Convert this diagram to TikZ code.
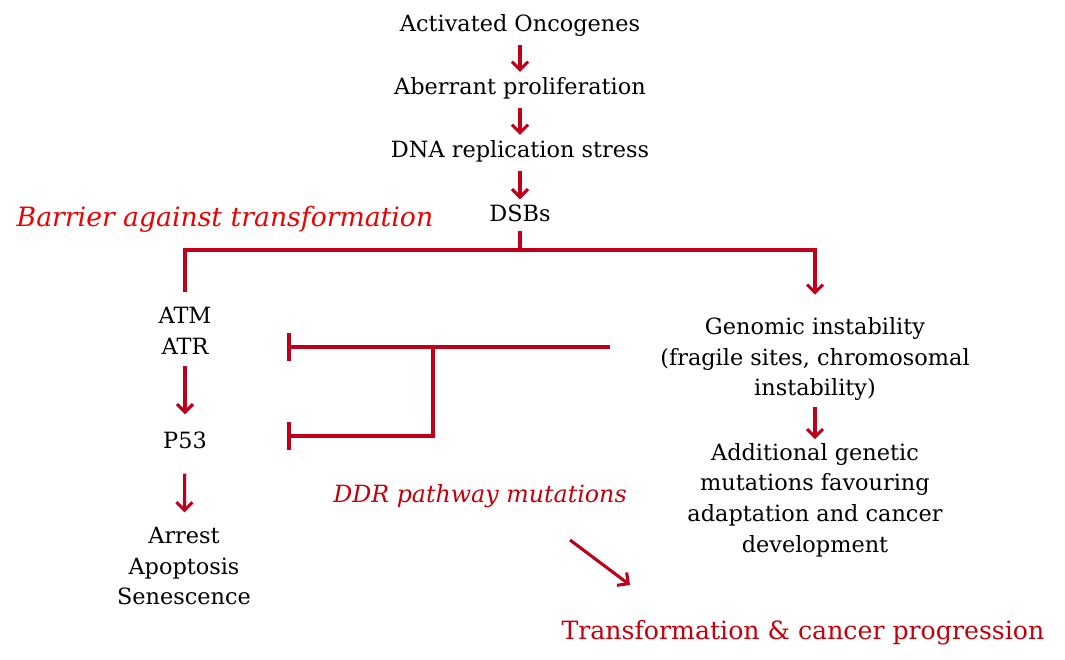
\documentclass[tikz,border=0pt]{standalone}
\usepackage{fontspec}
\setmainfont{DejaVu Serif}
\usetikzlibrary{arrows.meta,positioning}
\definecolor{linered}{RGB}{192,0,26}
\definecolor{barrierred}{RGB}{238,0,0}
\definecolor{ddrred}{RGB}{196,0,12}
\tikzset{
  txt/.style={align=center,inner sep=0.75pt,font=\fontsize{16.8}{23}\selectfont},
  redtxt/.style={inner sep=0.75pt,font=\fontsize{17.8}{23}\selectfont\itshape},
  link/.style={draw=linered,line width=2.3pt},
  flow/.style={link,-{Straight Barb[length=6pt,width=12pt,line width=2.3pt]}},
  inhib/.style={link,-{Bar[width=21pt,line width=2.8pt]}},
}
\begin{document}
\begin{tikzpicture}[x=0.75pt,y=0.75pt,yscale=-1,xscale=1]
\useasboundingbox (0,0) rectangle (1065,660);

% main chain
\node[txt] (onc) at (520,25) {Activated Oncogenes};
\node[txt] (abp) at (520,88) {Aberrant proliferation};
\node[txt] (drs) at (520,151) {DNA replication stress};
\node[txt] (dsb) at (520,213) {DSBs};
\node[redtxt,text=barrierred,font=\fontsize{20}{23}\selectfont\itshape] (barrier) at (225,219) {Barrier against transformation};

% left branch
\node[txt] (atm) at (185,315) {ATM};
\node[txt] (atr) at (185,346) {ATR};
\node[txt] (p53) at (185,440) {P53};
\node[txt] (fate) at (184,566) {Arrest\\Apoptosis\\Senescence};

% right branch
\node[txt] (gen) at (815,359) {Genomic instability\\(fragile sites, chromosomal\\instability)};
\node[txt] (add) at (815,500) {Additional genetic\\mutations favouring\\adaptation and cancer\\development};

\node[redtxt,text=ddrred] (ddr) at (480,496) {DDR pathway mutations};
\node[inner sep=0.75pt,text=ddrred,font=\fontsize{18.9}{24}\selectfont] (prog) at (803,633) {Transformation \& cancer progression};

% helper points
\coordinate (split) at (520,250);
\coordinate (gi-w) at (610,347);
\coordinate (fork) at (433,347);
\coordinate (atr-bar) at (287,347);
\coordinate (p53-bar) at (287,436);
\coordinate (ddr-a) at (570,540);
\coordinate (ddr-b) at (630,585);

% arrows
\draw[flow,shorten <=6pt,shorten >=3pt] (onc) -- (abp);
\draw[flow,shorten <=6pt,shorten >=3pt] (abp) -- (drs);
\draw[flow,shorten <=6pt,shorten >=3pt] (drs) -- (dsb);
\draw[link,shorten <=6pt] (dsb) -- (split);
\draw[link,shorten >=10pt] (split) -| (atm.north);
\draw[flow,shorten >=16pt] (split) -| (gen.north);
\draw[flow,shorten <=8pt,shorten >=12pt] (atr) -- (p53);
\draw[flow,shorten <=18pt,shorten >=10pt] (p53) -- (fate);
\draw[flow,shorten <=4pt,shorten >=2pt] (gen) -- (add);
\draw[inhib] (gi-w) -- (atr-bar);
\draw[inhib] (fork) |- (p53-bar);
\draw[flow] (ddr-a) -- (ddr-b);

\end{tikzpicture}
\end{document}
